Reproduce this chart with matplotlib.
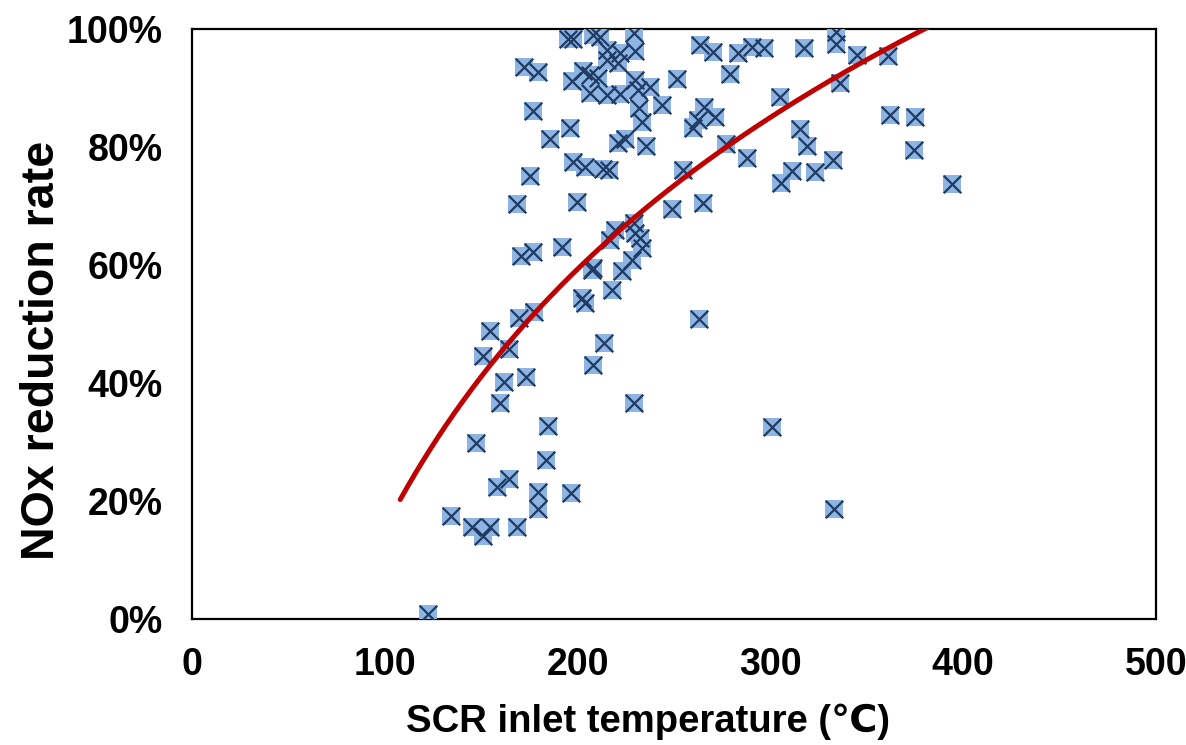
import numpy as np
import matplotlib
matplotlib.use("Agg")
import matplotlib.pyplot as plt
from matplotlib.ticker import PercentFormatter

# SCR inlet temperature (deg C)
temperature = [
    122.4, 134.3, 145.2, 147.3, 150.9, 150.9, 154.6, 154.6, 158.2, 159.8,
    161.8, 164.4, 164.4, 168.6, 168.6, 169.6, 170.6, 172.2, 173.2, 175.3,
    176.9, 176.9, 177.4, 179.5, 179.5, 179.5, 183.6, 184.6, 185.7, 191.9,
    196.1, 195.0, 197.6, 196.6, 197.1, 197.6, 199.7, 202.3, 203.8, 203.8,
    202.8, 206.4, 206.4, 207.5, 208.0, 208.0, 208.0, 210.6, 211.6, 213.1,
    213.7, 215.2, 215.2, 215.2, 216.3, 216.8, 217.8, 219.4, 221.0, 221.0,
    222.0, 222.0, 223.0, 224.6, 228.2, 229.3, 229.3, 229.8, 229.8, 229.8,
    229.3, 231.3, 231.7, 232.4, 233.4, 233.4, 235.5, 237.6, 243.8, 249.0,
    251.6, 254.7, 259.8, 262.4, 265.6, 271.3, 263.5, 270.2, 265.1, 263.0,
    277.0, 279.0, 283.2, 287.9, 290.5, 296.7, 300.8, 305.5, 305.0, 311.2,
    315.4, 318.9, 317.4, 323.1, 332.5, 334.0, 334.0, 333.0, 336.1, 344.9,
    361.0, 362.0, 375.0, 374.5, 394.2,
]

# NOx reduction rate (%)
reduction = [
    0.8, 17.5, 15.6, 29.8, 44.6, 14.1, 15.6, 48.8, 22.4, 36.6,
    40.2, 23.7, 45.8, 15.6, 70.3, 51.0, 61.5, 93.6, 41.0, 75.1,
    62.2, 86.1, 52.0, 92.7, 21.5, 18.6, 26.9, 32.7, 81.4, 63.1,
    83.2, 98.3, 98.3, 21.4, 91.2, 77.5, 70.7, 54.4, 53.6, 76.6,
    92.9, 92.2, 89.1, 59.2, 59.5, 43.1, 99.0, 91.7, 98.6, 76.3,
    46.8, 96.4, 94.7, 88.8, 76.1, 64.2, 55.8, 65.9, 80.7, 94.2,
    95.9, 89.0, 59.0, 81.4, 60.8, 99.3, 67.1, 96.3, 91.4, 65.4,
    36.6, 89.7, 86.6, 64.6, 84.2, 62.9, 80.2, 90.2, 87.1, 69.5,
    91.5, 76.1, 83.3, 84.6, 86.8, 85.1, 97.3, 96.1, 70.5, 50.8,
    80.5, 92.4, 95.9, 78.1, 96.9, 96.8, 32.5, 73.9, 88.5, 75.9,
    83.1, 80.2, 96.8, 75.8, 77.8, 99.5, 97.5, 18.6, 90.8, 95.6,
    95.4, 85.4, 85.1, 79.5, 73.7,
]

# Logarithmic trendline: y = a*ln(x) + b (y in %), drawn over this x range
trend_a = 63.4
trend_b = -276.6
trend_x_range = [108.0, 394.2]

x_ticks = [0, 100, 200, 300, 400, 500]
y_ticks = [0, 20, 40, 60, 80, 100]

plt.rcParams['font.family'] = ['Liberation Sans', 'DejaVu Sans']
plt.rcParams['font.weight'] = 'bold'

fig = plt.figure(figsize=(11.86, 7.45), dpi=100)
ax = fig.add_axes([0.1619, 0.1691, 0.8128, 0.792])

xs = np.array(temperature)
ys = np.array(reduction)
ax.scatter(xs, ys, marker='s', s=170, color='#8DB4E2', edgecolors='none', zorder=3)
ax.scatter(xs, ys, marker='x', s=160, color='#1F3B63', linewidths=1.6, zorder=4)

tx = np.linspace(trend_x_range[0], trend_x_range[1], 300)
ty = trend_a * np.log(tx) + trend_b
ax.plot(tx, ty, color='#C00000', lw=3.6, zorder=5, solid_capstyle='round')

ax.set_xlim(0, 500)
ax.set_ylim(0, 100)
ax.set_xticks(x_ticks)
ax.set_yticks(y_ticks)
ax.yaxis.set_major_formatter(PercentFormatter(decimals=0))
ax.tick_params(length=0, labelsize=27, pad=21)
ax.tick_params(axis='x', pad=20)
for lab in ax.get_xticklabels() + ax.get_yticklabels():
    lab.set_fontweight('bold')

for sp in ax.spines.values():
    sp.set_linewidth(1.6)
    sp.set_color('black')

ax.set_xlabel('SCR inlet temperature (℃)', fontsize=27.5, fontweight='bold')
ax.xaxis.set_label_coords(0.473, -0.143)
ax.set_ylabel('NOx reduction rate', fontsize=33.5, fontweight='bold')
ax.yaxis.set_label_coords(-0.133, 0.456)

fig.savefig('out.png', dpi=100)
